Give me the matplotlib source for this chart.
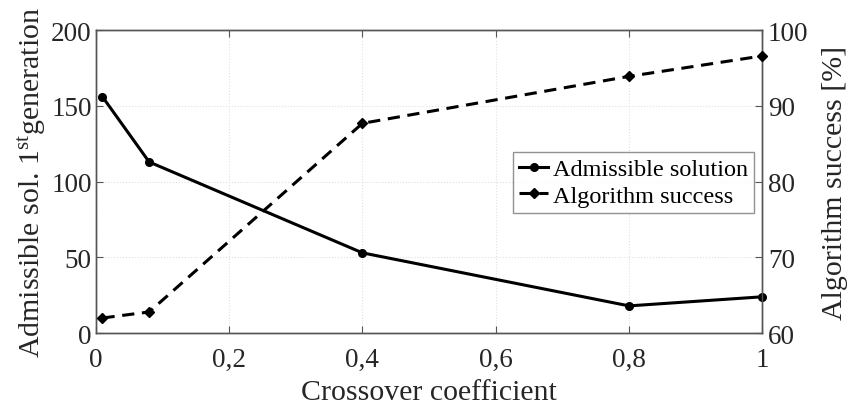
import matplotlib
matplotlib.use('Agg')
import matplotlib.pyplot as plt
from matplotlib.ticker import FuncFormatter

# Data
crossover = [0.01, 0.08, 0.4, 0.8, 1.0]
admissible = [156, 113, 53, 18, 24]
success = [62.0, 62.8, 87.7, 93.9, 96.6]

plt.rcParams['font.family'] = ['Liberation Serif', 'DejaVu Serif']
plt.rcParams['mathtext.fontset'] = 'custom'
plt.rcParams['mathtext.rm'] = 'Liberation Serif'
plt.rcParams['mathtext.it'] = 'Liberation Serif:italic'

txt = '#262626'
spine = '#555555'

fig = plt.figure(figsize=(8.48, 4.10), dpi=100)
ax = fig.add_axes([0.113, 0.185, 0.786, 0.739])
ax2 = ax.twinx()

l1, = ax.plot(crossover, admissible, '-', color='k', lw=2.2, marker='o', ms=5.5,
              label='Admissible solution', clip_on=False, zorder=3)
l2, = ax2.plot(crossover, success, '--', color='k', lw=2.2, marker='D', ms=5,
               dashes=(4, 2.5), label='Algorithm success', clip_on=False, zorder=3)

ax.set_xlim(0, 1)
ax.set_ylim(0, 200)
ax2.set_ylim(60, 100)
ax.set_xticks([0, 0.2, 0.4, 0.6, 0.8, 1])
ax.set_yticks([0, 50, 100, 150, 200])
ax2.set_yticks([60, 70, 80, 90, 100])

comma = FuncFormatter(lambda v, p: ('%g' % v).replace('.', ','))
ax.xaxis.set_major_formatter(comma)

ax.grid(True, linestyle=':', color='#e0e0e0', lw=0.8)
ax.tick_params(axis='x', direction='in', top=True, labelsize=19.5, colors=txt, length=5,
               pad=10, color=spine)
ax.tick_params(axis='y', direction='in', labelsize=19.5, colors=txt, length=5, pad=3,
               color=spine)
ax2.tick_params(axis='y', direction='in', labelsize=19.5, colors=txt, length=5, pad=4,
                color=spine)
for a in (ax, ax2):
    for s in a.spines.values():
        s.set_color(spine)
        s.set_linewidth(1.0)

ax.set_xlabel('Crossover coefficient', fontsize=21.5, color=txt, labelpad=5)
ax.set_ylabel(r'Admissible sol. 1$^{\mathrm{st}}$generation', fontsize=21.5, color=txt,
              labelpad=2)
ax2.set_ylabel('Algorithm success [%]', fontsize=21.5, color=txt, labelpad=10)

leg = ax2.legend(handles=[l1, l2], loc='upper right', bbox_to_anchor=(0.988, 0.598),
                 fontsize=17.5, frameon=True, fancybox=False, handlelength=1.2,
                 handletextpad=0.2, borderpad=0.25, labelspacing=0.2, borderaxespad=0)
leg.get_frame().set_edgecolor('#777777')
leg.get_frame().set_linewidth(1.0)

fig.savefig('out.png', dpi=100)
